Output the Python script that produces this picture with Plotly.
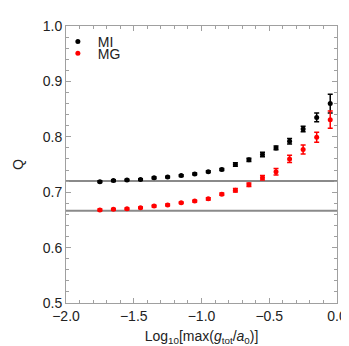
import plotly.graph_objects as go

# log10 of max(g_tot / a0)
log_g = [-1.75, -1.65, -1.55, -1.45, -1.35, -1.25, -1.15, -1.05, -0.95,
         -0.85, -0.75, -0.65, -0.55, -0.45, -0.35, -0.25, -0.15, -0.05]

q_mi = [0.719, 0.721, 0.722, 0.723, 0.726, 0.7275, 0.730, 0.733, 0.737,
        0.741, 0.750, 0.7585, 0.768, 0.780, 0.792, 0.814, 0.835, 0.860]
err_mi = [0.0015, 0.0015, 0.0015, 0.0015, 0.0015, 0.0015, 0.0015, 0.0015, 0.0015,
          0.002, 0.003, 0.003, 0.004, 0.0035, 0.005, 0.005, 0.008, 0.017]

q_mg = [0.668, 0.669, 0.670, 0.672, 0.675, 0.677, 0.681, 0.684, 0.688,
        0.6965, 0.7035, 0.7135, 0.726, 0.737, 0.760, 0.777, 0.799, 0.831]
err_mg = [0.0015, 0.0015, 0.0015, 0.0015, 0.0015, 0.0015, 0.0015, 0.0015, 0.002,
          0.002, 0.003, 0.003, 0.004, 0.006, 0.0065, 0.008, 0.009, 0.0155]

ref_levels = [0.72, 2 / 3]

# one legend per series so the two rows can sit as close as in the original
series = [
    ("MI", q_mi, err_mi, "black", "legend"),
    ("MG", q_mg, err_mg, "#ff0000", "legend2"),
]

fig = go.Figure()

for name, q, err, color, leg in series:
    fig.add_trace(go.Scatter(
        x=log_g, y=q, name=name, mode="markers", legend=leg, showlegend=True,
        marker=dict(color=color, size=5),
        error_y=dict(type="data", array=err, color=color, thickness=1.5, width=2.5),
    ))

for level in ref_levels:
    fig.add_hline(y=level, line=dict(color="#8a8a8a", width=2), layer="below")

axis_style = dict(
    showline=True, linecolor="#a0a0a0", linewidth=1, mirror="allticks",
    ticks="inside", ticklen=5, tickcolor="#a0a0a0", showgrid=False, zeroline=False,
    tickfont=dict(size=14, color="#222"),
)

fig.update_xaxes(
    range=[-2.0, 0.0], dtick=0.5, tickformat=".1f",
    minor=dict(dtick=0.1, ticks="inside", ticklen=3, tickcolor="#a0a0a0"),
    title=dict(text="Log<sub>10</sub>[max(<i>g</i><sub>tot</sub>/<i>a</i><sub>0</sub>)]",
               font=dict(size=14, color="#222"), standoff=8),
    **axis_style,
)
fig.update_yaxes(
    range=[0.5, 1.0], dtick=0.1, tickformat=".1f",
    minor=dict(dtick=0.02, ticks="inside", ticklen=3, tickcolor="#a0a0a0"),
    title=dict(text="Q", font=dict(size=14, color="#222"), standoff=15),
    **axis_style,
)

legend_style = dict(xref="paper", yref="paper", xanchor="left", yanchor="top",
                    bgcolor="rgba(0,0,0,0)", font=dict(size=14, color="#222"),
                    itemwidth=30)

fig.update_layout(
    width=349, height=346,
    margin=dict(l=51, r=12, t=10, b=51),
    plot_bgcolor="white", paper_bgcolor="white",
    font=dict(family="Liberation Sans, Arial, sans-serif"),
    showlegend=True,
    legend=dict(x=-0.03, y=1.0, **legend_style),
    legend2=dict(x=-0.03, y=0.958, **legend_style),
)

fig.write_html("out.html")
